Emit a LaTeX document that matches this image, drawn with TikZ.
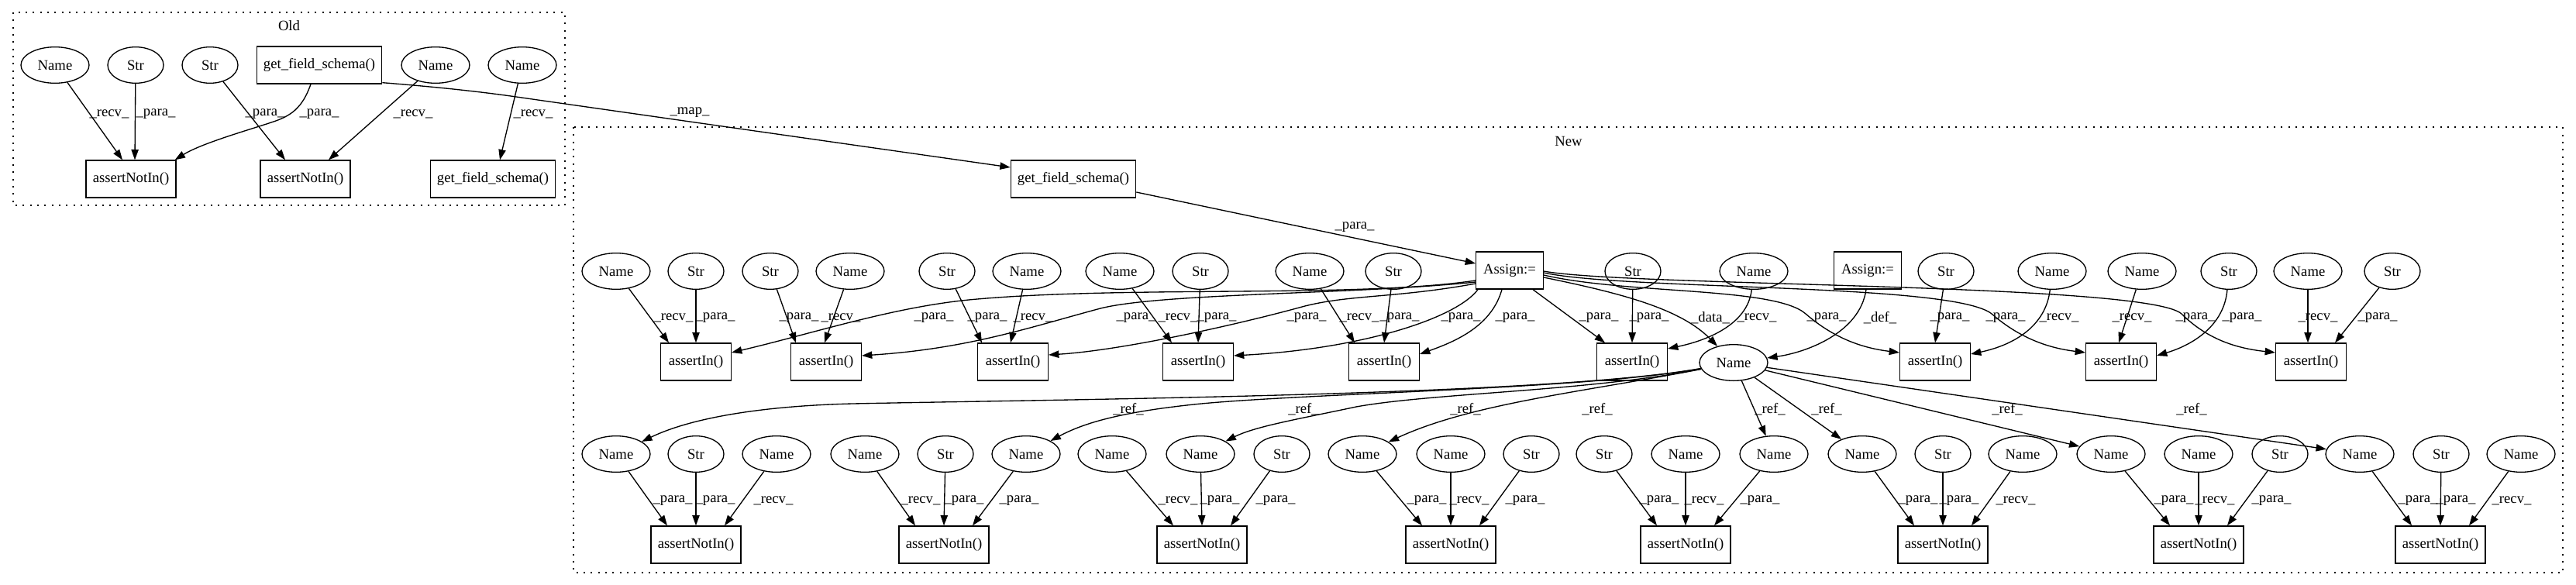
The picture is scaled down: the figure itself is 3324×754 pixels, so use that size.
\documentclass[tikz,border=0pt]{standalone}
\usepackage{fontspec}
\setmainfont{Liberation Serif}
\usetikzlibrary{shapes.geometric,arrows.meta,calc}
\newcommand\gvf{\fontsize{14pt}{16pt}\selectfont}
\newcommand\lrecv{\_recv\_}
\newcommand\lpara{\_para\_}
\begin{document}
\begin{tikzpicture}[x=0.75pt,y=-0.75pt,
  every node/.style={font=\gvf},
  nm/.style={ellipse,draw,line width=1pt,minimum width=66pt,minimum height=35pt,inner sep=0pt},
  st/.style={ellipse,draw,line width=1pt,minimum width=54pt,minimum height=35pt,inner sep=0pt},
  bx/.style={rectangle,draw,line width=1pt,minimum height=36pt,inner sep=0pt},
  ain/.style={bx,minimum width=68pt},
  anot/.style={bx,minimum width=87pt},
  gfs/.style={bx,minimum width=121pt},
  asg/.style={bx,minimum width=65pt},
  lbl/.style={inner sep=0pt},
  ed/.style={draw,line width=1pt,-{Triangle[length=10pt,width=7pt]}},
  cl/.style={draw,line width=1pt,dash pattern=on 1.5pt off 5.5pt}]
\useasboundingbox (0,0) rectangle (3324,754);
% clusters
\draw[cl] (17,16) rectangle (729,265);
\node[lbl] (tOld) at (373,33) {Old};
\draw[cl] (740,164) rectangle (3307,739);
\node[lbl] (tNew) at (2024,182) {New};
% ---------- Old ----------
\node[nm] (oN1) at (71,84) {Name};
\node[st] (oS1) at (175,84) {Str};
\node[st] (oS2) at (271,84) {Str};
\node[gfs] (oG) at (412,84) {get\_field\_schema()};
\node[nm] (oN2) at (562,84) {Name};
\node[nm] (oN3) at (674,84) {Name};
\node[anot] (oA1) at (169,231) {assertNotIn()};
\node[anot] (oA2) at (394,231) {assertNotIn()};
\node[gfs] (oG2) at (636,231) {get\_field\_schema()};
\draw[ed] (oN1) -- ($(oA1.north)+(-11,0)$);
\draw[ed] (oS1) -- ($(oA1.north)+(5,0)$);
\draw[ed] ($(oG.south)+(-11,0)$) .. controls (390,140) and (375,150) .. (350,158) .. controls (320,168) and (260,185) .. ($(oA1.north east)+(-2,0)$);
\draw[ed] (oS2) -- ($(oA2.north)+(-26,0)$);
\draw[ed] (oN2) -- ($(oA2.north)+(30,0)$);
\draw[ed] (oN3) -- ($(oG2.north)+(9,0)$);
\node[lbl] (lo1) at (141,147) {\lrecv};
\node[lbl] (lo2) at (201,147) {\lpara};
\node[lbl] (lo3) at (412,147) {\lpara};
\node[lbl] (lo4) at (342,147) {\lpara};
\node[lbl] (lo5) at (533,147) {\lrecv};
\node[lbl] (lo6) at (688,147) {\lrecv};
% ---------- New ----------
\node[gfs] (nG) at (1385,231) {get\_field\_schema()};
\draw[ed] ($(oG.south east)+(0,-2)$) .. controls (560,112) and (620,118) .. (680,127) -- ($(nG.west)+(0,-15)$);
\node[lbl] (lmap) at (890,145) {\_map\_};
% top row
\foreach \x in {795,1097,1325,1445,1690,2263,2648,2764,2978} \node[nm] (t\x) at (\x,350) {Name};
\foreach \x in {898,994,1222,1549,1798,2107,2511,2876,3087} \node[st] (t\x) at (\x,350) {Str};
\node[asg] (A1) at (1948,349) {Assign:=};
\node[asg] (A2) at (2410,349) {Assign:=};
% second row
\node[ain] (a1) at (898,467) {assertIn()};
\node[ain] (a2) at (1066,467) {assertIn()};
\node[ain] (a3) at (1307,467) {assertIn()};
\node[ain] (a4) at (1546,467) {assertIn()};
\node[ain] (a5) at (1786,467) {assertIn()};
\node[ain] (a6) at (2106,467) {assertIn()};
\node[nm] (N) at (2237,468) {Name};
\node[ain] (a7) at (2497,467) {assertIn()};
\node[ain] (a8) at (2737,467) {assertIn()};
\node[ain] (a9) at (2982,467) {assertIn()};
% third row
\foreach \x in {795,1002,1116,1324,1435,1549,1758,1872,2175,2289,2403,2610,2724,2837,3045,3253} \node[nm] (m\x) at (\x,586) {Name};
\foreach \x in {898,1220,1654,1976,2070,2507,2942,3150} \node[st] (m\x) at (\x,586) {Str};
% fourth row
\node[anot] (b1) at (898,703) {assertNotIn()};
\node[anot] (b2) at (1218,703) {assertNotIn()};
\node[anot] (b3) at (1551,703) {assertNotIn()};
\node[anot] (b4) at (1872,703) {assertNotIn()};
\node[anot] (b5) at (2175,703) {assertNotIn()};
\node[anot] (b6) at (2507,703) {assertNotIn()};
\node[anot] (b7) at (2837,703) {assertNotIn()};
\node[anot] (b8) at (3149,703) {assertNotIn()};
% get_field_schema -> Assign
\draw[ed] ($(nG.east)+(0,17)$) -- ($(A1.west)+(0,-9)$);
\node[lbl] (lgp) at (1748,293) {\lpara};
% Assign edges
\draw[ed] ($(A1.west)+(0,13)$) .. controls (1750,385) and (1450,368) .. (1250,387) .. controls (1150,397) and (1050,430) .. ($(a1.east)+(0,-12)$);
\draw[ed] ($(A1.west)+(0,15)$) .. controls (1750,380) and (1500,378) .. (1420,398) .. controls (1330,422) and (1250,450) .. ($(a2.east)+(0,-8)$);
\draw[ed] ($(A1.west)+(0,17)$) .. controls (1800,385) and (1740,380) .. (1680,396) .. controls (1600,418) and (1450,452) .. ($(a3.east)+(0,-9)$);
\draw[ed] ($(A1.south west)+(3,0)$) .. controls (1880,410) and (1760,450) .. ($(a4.east)+(0,-8)$);
\draw[ed] ($(A1.south)+(-10,0)$) .. controls (1925,420) and (1880,440) .. ($(a5.east)+(0,-10)$);
\draw[ed] ($(A1.south east)+(-14,0)$) -- ($(a6.north west)+(11,0)$);
\draw[ed] ($(A1.east)+(0,9)$) .. controls (2100,380) and (2170,400) .. (N);
\draw[ed] ($(A1.east)+(0,6)$) .. controls (2100,380) and (2290,370) .. (2330,405) .. controls (2370,440) and (2410,450) .. ($(a7.west)+(0,-12)$);
\draw[ed] ($(A1.east)+(0,3)$) .. controls (2100,375) and (2520,365) .. (2570,405) .. controls (2610,440) and (2650,450) .. ($(a8.west)+(0,-12)$);
\draw[ed] ($(A1.east)+(0,1)$) .. controls (2100,370) and (2770,365) .. (2815,405) .. controls (2850,440) and (2890,450) .. ($(a9.west)+(0,-12)$);
\draw[ed] ($(A2.south)+(-2,0)$) .. controls (2400,430) and (2330,455) .. (N);
% simple edges into assertIn
\draw[ed] (t795) -- ($(a1.north)+(-35,0)$);
\draw[ed] (t898) -- (a1.north);
\draw[ed] (t994) -- ($(a2.north)+(-39,0)$);
\draw[ed] (t1097) -- ($(a2.north)+(-2,0)$);
\draw[ed] (t1222) -- ($(a3.north)+(-40,0)$);
\draw[ed] (t1325) -- ($(a3.north)+(-3,0)$);
\draw[ed] (t1445) -- ($(a4.north)+(-34,0)$);
\draw[ed] (t1549) -- (a4.north);
\draw[ed] (t1690) -- ($(a5.north)+(-38,0)$);
\draw[ed] (t1798) -- (a5.north);
\draw[ed] (t2107) -- (a6.north);
\draw[ed] (t2263) .. controls (2255,420) and (2200,440) .. ($(a6.east)+(0,-17)$);
\draw[ed] (t2511) -- (a7.north);
\draw[ed] (t2648) .. controls (2640,420) and (2600,445) .. ($(a7.east)+(0,-10)$);
\draw[ed] (t2764) -- ($(a8.north)+(-3,0)$);
\draw[ed] (t2876) .. controls (2870,420) and (2830,445) .. ($(a8.east)+(0,-8)$);
\draw[ed] (t2978) -- ($(a9.north)+(-4,0)$);
\draw[ed] (t3087) -- ($(a9.north)+(31,0)$);
% labels row 2
\foreach \x in {869,1085,1333,1520,1754,2267,2657,2751,2991} \node[lbl] (lr\x) at (\x,410) {\lrecv};
\foreach \x in {923,1031,1205,1274,1466,1570,1686,1806,1885,1955,2063,2128,2357,2516,2588,2833,2893,3068} \node[lbl] (lr\x) at (\x,410) {\lpara};
\node[lbl] (ldata) at (2207,410) {\_data\_};
\node[lbl] (ldef) at (2426,410) {\_def\_};
% ref edges
\draw[ed] (N) .. controls (2000,510) and (1400,515) .. (1100,521) .. controls (980,524) and (890,540) .. (m795);
\draw[ed] (N) .. controls (2050,502) and (1700,507) .. (1550,521) .. controls (1450,531) and (1400,545) .. (m1324);
\draw[ed] (N) .. controls (2050,505) and (1850,507) .. (1750,525) .. controls (1680,540) and (1620,550) .. (m1549);
\draw[ed] (N) .. controls (2050,505) and (1900,520) .. (m1758);
\draw[ed] (N) -- (m2289);
\draw[ed] (N) -- (m2403);
\draw[ed] (N) -- (m2724);
\draw[ed] (N) -- (m3045);
\foreach \x in {1456,1682,1891,2061,2284,2357,2590,2828} \node[lbl] (lf\x) at (\x,528) {\_ref\_};
% bottom edges
\foreach \pB/\pL/\pM/\pR in {b1/795/898/1002,b2/1116/1220/1324,b3/1435/1549/1654,b4/1758/1872/1976,b5/2070/2175/2289,b6/2403/2507/2610,b7/2724/2837/2942,b8/3045/3150/3253}{
  \draw[ed] (m\pL) -- ($(\pB.north)+(-37,0)$);
  \draw[ed] (m\pM) -- (\pB.north);
  \draw[ed] (m\pR) -- ($(\pB.north)+(37,0)$);
}
\foreach \x in {998,1188,1520,1896,2199,2601,2858,3241} \node[lbl] (lb\x) at (\x,646) {\lrecv};
\foreach \x in {868,923,1244,1315,1574,1646,1841,1968,2141,2271,2475,2528,2805,2931,3120,3169} \node[lbl] (lb\x) at (\x,646) {\lpara};
\end{tikzpicture}
\end{document}
